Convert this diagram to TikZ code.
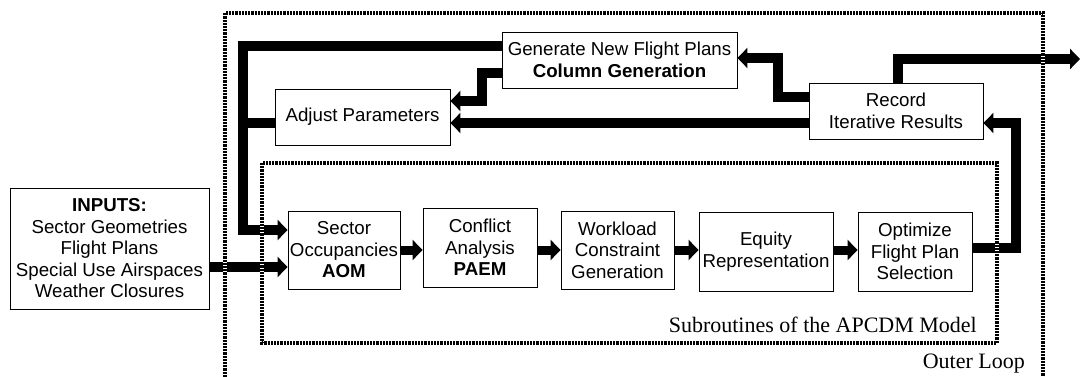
\documentclass[tikz,border=0pt]{standalone}
\usepackage{fontspec}
\setmainfont{Liberation Serif}
\setsansfont{Liberation Sans}
\usetikzlibrary{arrows.meta}

\begin{document}
\begin{tikzpicture}[x=1pt,y=-1pt,
  box/.style={draw, line width=0.9pt, fill=white, inner sep=0pt, align=center,
              font=\sffamily\fontsize{18.7}{21.5}\selectfont},
  flow/.style={line width=10pt, -{Triangle[width=20pt,length=10pt]}},
  link/.style={line width=10pt},
  chain/.style={line width=9pt, -{Triangle[width=20pt,length=10pt]}},
  frameback/.style={line width=3.4pt, white},
  frameline/.style={line width=3.4pt, dash pattern=on 2.2pt off 1pt},
  caption/.style={font=\fontsize{22}{26}\selectfont, inner sep=0pt}]
\useasboundingbox (0,0) rectangle (1081,377);

% process boxes
\node[box, minimum width=199pt, minimum height=121pt] (inputs) at (109.5,248.5)
  {\textbf{INPUTS:}\\Sector Geometries\\Flight Plans\\Special Use Airspaces\\Weather Closures};
\node[box, minimum width=112pt, minimum height=78pt] (sector) at (344,250)
  {Sector\\Occupancies\\\textbf{AOM}};
\node[box, minimum width=114pt, minimum height=79pt] (conflict) at (480,247.5)
  {Conflict\\Analysis\\\textbf{PAEM}};
\node[box, minimum width=113pt, minimum height=78pt] (workload) at (617.5,250)
  {Workload\\Constraint\\Generation};
\node[box, minimum width=134pt, minimum height=79pt] (equity) at (766,251.5)
  {Equity\\Representation};
\node[box, minimum width=114pt, minimum height=79pt] (optimize) at (915,251.5)
  {Optimize\\Flight Plan\\Selection};
\node[box, minimum width=175pt, minimum height=56pt] (adjust) at (362.5,117)
  {Adjust Parameters};
\node[box, minimum width=235pt, minimum height=56pt] (generate) at (619.5,60)
  {Generate New Flight Plans\\\textbf{Column Generation}};
\node[box, minimum width=174pt, minimum height=56pt] (record) at (896,111)
  {Record\\Iterative Results};

% bend points of the feedback routes
\coordinate (busTop) at (243,46);
\coordinate (busBot) at (243,230);
\coordinate (inY)    at (0,267);
\coordinate (chainY) at (0,250);
\coordinate (g1) at (482,73);
\coordinate (g2) at (482,101);
\coordinate (r1) at (778,97);
\coordinate (r2) at (778,58);
\coordinate (fbY) at (600,123);
\coordinate (o1) at (1016,248);
\coordinate (o2) at (1016,123);
\coordinate (out1) at (898,59);
\coordinate (out2) at (1080,59);

% subroutine chain
\draw[chain] (sector.east |- chainY) -- (conflict.west |- chainY);
\draw[chain] (conflict.east |- chainY) -- (workload.west |- chainY);
\draw[chain] (workload.east |- chainY) -- (equity.west |- chainY);
\draw[chain] (equity.east |- chainY) -- (optimize.west |- chainY);

% inputs
\draw[flow] (inputs.east |- inY) -- (sector.west |- inY);

% outer loop
\draw[flow] (generate.west |- busTop) -- (busTop) -- (busBot) -- (sector.west |- busBot);
\draw[link] (adjust.west |- fbY) -- (busTop |- fbY);
\draw[flow] (generate.west |- g1) -- (g1) -- (g2) -- (adjust.east |- g2);
\draw[flow] (record.west |- fbY) -- (adjust.east |- fbY);
\draw[flow] (record.west |- r1) -- (r1) -- (r2) -- (generate.east |- r2);
\draw[flow] (optimize.east |- o1) -- (o1) -- (o2) -- (record.east |- o2);
\draw[flow] (out1 |- record.north) -- (out1) -- (out2);

% dotted frames
\coordinate (innerNW) at (262,163);
\coordinate (innerSE) at (997,343);
\draw[frameback] (innerNW) rectangle (innerSE);
\draw[frameline] (innerNW) rectangle (innerSE);
\coordinate (outerSW) at (225,377);
\coordinate (outerNW) at (225,13);
\coordinate (outerNE) at (1043,13);
\coordinate (outerSE) at (1043,377);
\draw[frameback] (outerSW) -- (outerNW) -- (outerNE) -- (outerSE);
\draw[frameline] (outerSW) -- (outerNW) -- (outerNE) -- (outerSE);

% frame labels
\node[caption, anchor=base east] (subLabel) at (977,332) {Subroutines of the APCDM Model};
\node[caption, anchor=base east] (outerLabel) at (1025,368) {Outer Loop};
\end{tikzpicture}
\end{document}
